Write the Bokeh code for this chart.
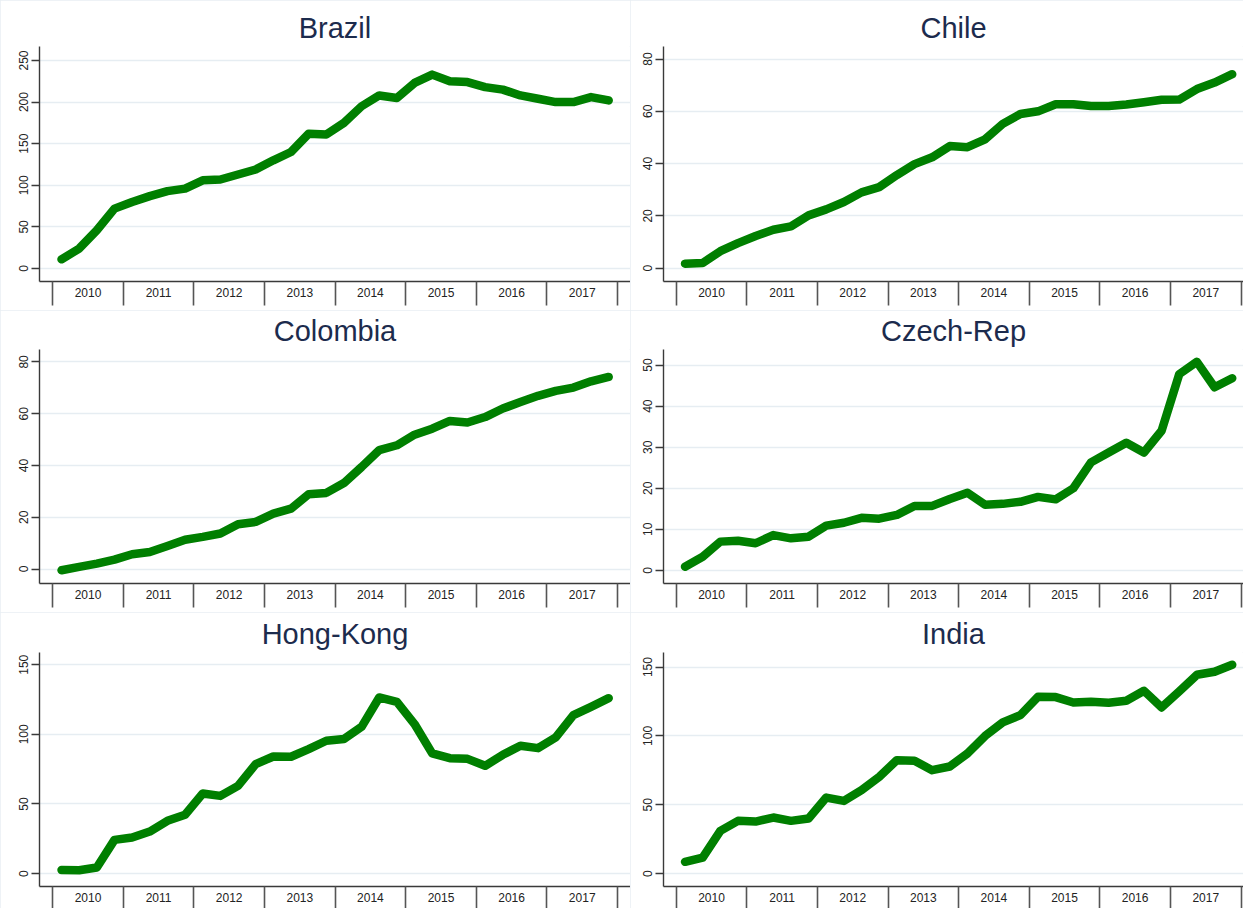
from bokeh.plotting import figure
from bokeh.layouts import column, row
from bokeh.models import FixedTicker, Range1d
from bokeh.embed import file_html
from bokeh.resources import INLINE

# ---------------- data ----------------
years = [2010, 2011, 2012, 2013, 2014, 2015, 2016, 2017]
quarters = [1, 2, 3, 4]
year_labels = ["2010", "2011", "2012", "2013", "2014", "2015", "2016", "2017"]

countries = ["Brazil", "Chile", "Colombia", "Czech-Rep", "Hong-Kong", "India"]

brazil = [11, 24, 46, 72, 80, 87, 93, 96, 106, 107, 113, 119, 130, 140, 162, 161,
          175, 195, 208, 205, 223, 233, 225, 224, 218, 215, 208, 204, 200, 200, 206, 202]
chile = [1.7, 2.0, 6.5, 9.6, 12.3, 14.7, 16.0, 20.2, 22.5, 25.3, 29.0, 31.0, 35.6, 39.8, 42.4, 46.7,
         46.3, 49.3, 55.2, 59.0, 60.0, 62.7, 62.7, 62.0, 62.0, 62.6, 63.5, 64.4, 64.5, 68.5, 71.0, 74.2]
colombia = [-0.5, 0.8, 2.1, 3.6, 5.7, 6.6, 8.9, 11.3, 12.4, 13.7, 17.3, 18.2, 21.4, 23.3, 28.9, 29.4,
            33.2, 39.4, 45.9, 47.8, 51.9, 54.2, 57.2, 56.6, 58.7, 62.0, 64.5, 66.9, 68.8, 70.1, 72.5, 74.2]
czech = [0.9, 3.3, 7.0, 7.2, 6.6, 8.6, 7.8, 8.2, 10.9, 11.6, 12.8, 12.6, 13.5, 15.7, 15.7, 17.4,
         18.9, 16.0, 16.2, 16.7, 17.9, 17.3, 20.0, 26.3, 28.7, 31.1, 28.7, 34.0, 47.8, 50.8, 44.6, 46.8]
hongkong = [2.6, 2.4, 4.3, 24.2, 25.9, 30.2, 37.9, 42.2, 57.5, 55.8, 63.0, 78.6, 84.1, 83.9, 89.4, 95.4,
            96.6, 105.4, 126.5, 123.4, 107.4, 86.3, 82.9, 82.4, 77.4, 85.3, 91.8, 90.1, 97.8, 113.8, 119.8, 126.0]
india = [8.5, 11.6, 31.0, 38.3, 37.8, 40.7, 38.3, 40.0, 55.2, 52.8, 60.6, 70.3, 82.4, 81.9, 75.1, 77.8,
         87.2, 100.0, 109.8, 115.1, 128.4, 128.2, 124.3, 124.8, 124.1, 125.5, 132.8, 120.7, 132.3, 144.4, 146.6, 151.7]

series = [brazil, chile, colombia, czech, hongkong, india]

ticks_brazil = [0, 50, 100, 150, 200, 250]
ticks_0_80 = [0, 20, 40, 60, 80]
ticks_czech = [0, 10, 20, 30, 40, 50]
ticks_0_150 = [0, 50, 100, 150]
y_ticks = [ticks_brazil, ticks_0_80, ticks_0_80, ticks_czech, ticks_0_150, ticks_0_150]

# ---------------- layout / style ----------------
y_ranges = [(-15.6, 266.8), (-5.1, 84.8), (-5.6, 84.8), (-3.2, 53.8), (-9.3, 158.8), (-9.4, 160.6)]

# x position of each quarter: middle of the quarter inside its year
x_quarters = [y + (q - 0.5) / 4 for y in years for q in quarters]
mid_years = [y + 0.5 for y in years]
year_edges = years + [years[-1] + 1]

GREEN = "#007f00"
AXIS = "#3a3a3a"
GRID = "#e6edf2"
TITLE = "#1c2b4d"
FONT = "Liberation Sans"


def make_panel(idx):
    col = idx % 2
    r = idx // 2
    width = 630 if col == 0 else 613
    height = [310, 302, 296][r]
    top = [46, 39, 40][r]
    frame_h = [235, 234, 234][r]
    bottom = height - top - frame_h
    left = 39 if col == 0 else 33
    xr = (2009.813, 2018.184) if col == 0 else (2009.82, 2018.035)

    p = figure(width=width, height=height,
               x_range=Range1d(*xr), y_range=Range1d(*y_ranges[idx]),
               output_backend="svg", toolbar_location=None, tools="",
               min_border_left=left, min_border_right=0,
               min_border_top=top, min_border_bottom=bottom)
    p.styles = {"outline": "1px solid #e8eef3", "outline-offset": "-1px"}
    p.background_fill_color = "white"
    p.border_fill_color = "white"
    p.outline_line_color = None

    p.title.text = countries[idx]
    p.title.align = "center"
    p.title.text_font = FONT
    p.title.text_font_size = "29px"
    p.title.text_font_style = "normal"
    p.title.text_color = TITLE
    p.title.standoff = 5

    # x axis: labels at mid-year, long ticks at year boundaries
    xa = p.xaxis[0]
    xa.ticker = FixedTicker(ticks=mid_years, minor_ticks=year_edges)
    xa.major_label_overrides = {m: lab for m, lab in zip(mid_years, year_labels)}
    xa.major_tick_out = 0
    xa.major_tick_in = 0
    xa.minor_tick_out = 24
    xa.minor_tick_in = 0
    xa.minor_tick_line_color = "#555555"
    xa.minor_tick_line_width = 1.6
    xa.axis_line_color = AXIS
    xa.axis_line_width = 1.4
    xa.major_label_text_font = FONT
    xa.major_label_text_font_size = "12px"
    xa.major_label_text_color = "#222222"
    xa.major_label_standoff = -18

    ya = p.yaxis[0]
    ya.ticker = FixedTicker(ticks=y_ticks[idx], minor_ticks=[])
    ya.major_label_orientation = "vertical"
    ya.major_tick_out = 8
    ya.major_tick_in = 0
    ya.minor_tick_out = 0
    ya.minor_tick_in = 0
    ya.major_tick_line_color = AXIS
    ya.major_tick_line_width = 1.4
    ya.axis_line_color = AXIS
    ya.axis_line_width = 1.4
    ya.major_label_text_font = FONT
    ya.major_label_text_font_size = "12px"
    ya.major_label_text_color = "#222222"
    ya.major_label_standoff = 3

    p.xgrid.visible = False
    p.ygrid.grid_line_color = GRID
    p.ygrid.grid_line_width = 1.6

    p.line(x_quarters, series[idx], line_color=GREEN, line_width=8.5,
           line_cap="round", line_join="round")
    return p


panels = [make_panel(i) for i in range(6)]
layout = column(row(panels[0], panels[1]),
                row(panels[2], panels[3]),
                row(panels[4], panels[5]))

open("out.html", "w").write(file_html(layout, INLINE))
